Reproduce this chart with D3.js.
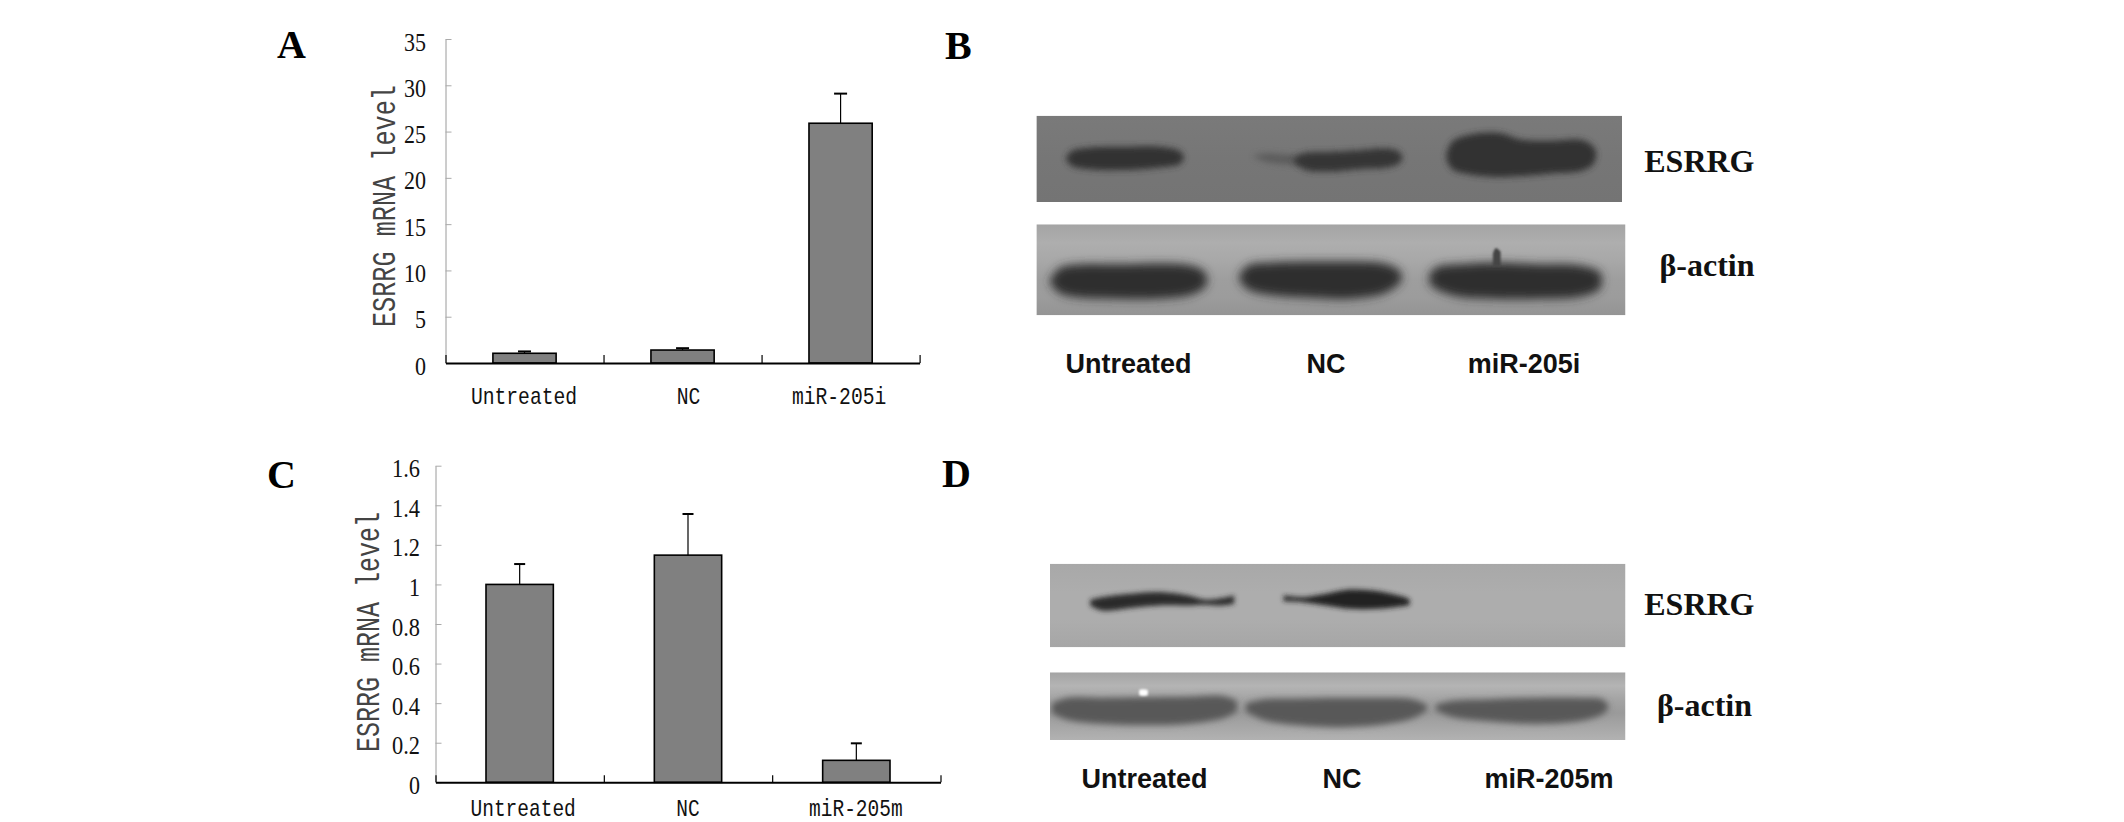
<!DOCTYPE html>
<html><head><meta charset="utf-8"><style>html,body{margin:0;padding:0;background:#fff}svg{display:block}</style>
<script src="https://cdn.jsdelivr.net/npm/d3@7"></script></head><body><svg id="c" width="2124" height="822"></svg>
<script>
// ---- Chart data ----
const catsA = ["Untreated","NC","miR-205i"];
const meansA = [1.05,1.4,25.9];
const errTopA = [1.25,1.6,29.1];
const ticksA = [0,5,10,15,20,25,30,35];
const catsC = ["Untreated","NC","miR-205m"];
const meansC = [1.0,1.148,0.111];
const errTopC = [1.103,1.356,0.197];
const ticksC = [0,0.2,0.4,0.6,0.8,1,1.2,1.4,1.6];
const yTitleA = "ESRRG mRNA level";
const yTitleC = "ESRRG mRNA level";

// ---- Blot band outlines: [% along membrane, % top edge, % bottom edge] ----
const bEsrrg1 = [[5,50,50],[6,41,58],[9,37,62],[15,36,63],[21,36,60],[24.5,41,56],[25.2,48,49]];
const bEsrrg2faint = [[37.2,46,48],[39,44,53],[42,45,56],[46,46,58]];
const bEsrrg2 = [[44,50,54],[46,43,63],[50,42,65],[55,40,62],[60,38,60],[62,42,55],[62.5,48,50]];
const bEsrrg3 = [[70,45,50],[71,30,62],[74,22,68],[79,20,71],[83,28,70],[88,29,67],[93,28,64],[95,35,57],[95.6,42,48]];
const bActin1 = [[2.4,60,66],[4,48,76],[8,44,81],[14,44,82],[20,43,82],[26,45,78],[28.5,52,70],[29,60,64]];
const bActin2 = [[34.5,55,62],[36,45,72],[40,42,78],[47,41,81],[53,41,82],[59,43,76],[61.5,50,66],[62,56,60]];
const bActin3 = [[66.7,55,65],[68,47,72],[72,44,80],[78,42,82],[85,44,82],[92,45,80],[95.5,52,72],[96,58,65]];
const bActinSpot = [[77.5,32,46],[78,26,46],[78.8,30,46]];
const dEsrrg1 = [[7,43,50],[9,40,56],[14,36,53],[19,34,50],[24,38,50],[27,43,49],[30,41,50],[32,38,48]];
const dEsrrg2 = [[40.6,38,45],[44,40,46],[48,36,50],[52,31,54],[57,33,54],[62,41,50],[62.5,43,49]];
const dActin1 = [[0.3,46,60],[3,38,70],[9,38,76],[16,37,78],[24,36,76],[30,35,68],[32.5,42,58]];
const dActin2 = [[34,46,58],[37,40,70],[43,39,78],[50,38,81],[57,38,78],[63,40,68],[65.5,48,56]];
const dActin3 = [[67,48,56],[70,42,66],[76,40,72],[84,38,76],[92,38,72],[96,40,62],[97,48,54]];
const dActinSpot = [[15.5,26,34],[16.2,25,35],[17,26,34]];
const blotLanesB = ["Untreated","NC","miR-205i"];
const blotLanesD = ["Untreated","NC","miR-205m"];
const blotProteins = ["ESRRG","β-actin"];
const panelLetters = ["A","B","C","D"];

// ---- Drawing ----
const svg = d3.select("#c");
const defs = svg.append("defs");
const blur = (id,s)=>defs.append("filter").attr("id",id).attr("x","-30%").attr("y","-80%").attr("width","160%").attr("height","260%")
  .append("feGaussianBlur").attr("stdDeviation",s);
blur("bl5",5); blur("bl3",3.4); blur("bl2",2.6); blur("bl1",1.2);
const mono = "'Liberation Mono',monospace", serif = "'Liberation Serif',serif", sans = "'Liberation Sans',sans-serif";

function barPanel(o){
  const g = svg.append("g");
  const x = d3.scaleBand().domain(o.cats).range(o.xr).paddingInner(0.6).paddingOuter(0.3);
  const y = d3.scaleLinear().domain([0,o.ticks[o.ticks.length-1]]).range(o.yr);
  const ax = d3.axisLeft(y).tickValues(o.ticks).tickFormat(d=>String(d)).tickSizeInner(-6).tickSizeOuter(0).tickPadding(o.pad);
  const ya = g.append("g").attr("transform",`translate(${o.xr[0]},0)`).call(ax);
  ya.select(".domain").attr("stroke","#9a9a9a").attr("stroke-width",1);
  ya.selectAll(".tick line").attr("stroke","#aaa").attr("stroke-width",1);
  ya.selectAll(".tick text").attr("dy",11).attr("font-family",serif).attr("font-size",26).attr("fill","#111")
    .attr("textLength",function(d){const s=String(d);return (s.match(/\d/g).length)*11+(s.includes(".")?6:0);})
    .attr("lengthAdjust","spacingAndGlyphs");
  g.selectAll(".bar").data(o.cats).join("rect").attr("class","bar")
    .attr("x",d=>x(d)).attr("width",x.bandwidth())
    .attr("y",(d,i)=>y(o.means[i])).attr("height",(d,i)=>y(0)-y(o.means[i]))
    .attr("fill","#808080").attr("stroke","#000").attr("stroke-width",1.6);
  g.selectAll(".stem").data(o.cats).join("line").attr("class","stem")
    .attr("x1",d=>x(d)+x.bandwidth()/2).attr("x2",d=>x(d)+x.bandwidth()/2)
    .attr("y1",(d,i)=>y(o.means[i])).attr("y2",(d,i)=>y(o.err[i])).attr("stroke","#000").attr("stroke-width",1.2);
  g.selectAll(".cap").data(o.cats).join("line").attr("class","cap")
    .attr("x1",d=>x(d)+x.bandwidth()/2-o.cap).attr("x2",d=>x(d)+x.bandwidth()/2+o.cap)
    .attr("y1",(d,i)=>y(o.err[i])).attr("y2",(d,i)=>y(o.err[i])).attr("stroke","#000").attr("stroke-width",2);
  const bounds = d3.scaleLinear().domain([0,o.cats.length]).range(o.xr);
  const xa = d3.axisBottom(bounds).tickValues(d3.range(o.cats.length+1)).tickFormat("").tickSizeInner(-o.tick).tickSizeOuter(0);
  const xg = g.append("g").attr("transform",`translate(0,${o.yr[0]})`).call(xa);
  xg.select(".domain").attr("stroke","#000").attr("stroke-width",2);
  xg.selectAll(".tick line").attr("stroke","#000").attr("stroke-width",1.2);
  g.selectAll(".cat").data(o.cats).join("text").attr("class","cat")
    .attr("x",(d,i)=>x(d)+x.bandwidth()/2+o.nudge[i]).attr("y",o.labelY)
    .attr("text-anchor","middle").attr("font-family",mono).attr("font-size",24).attr("fill","#111")
    .attr("textLength",d=>d.length*o.charW).attr("lengthAdjust","spacingAndGlyphs").text(d=>d);
  g.append("text").attr("transform",`translate(${o.titleX},${o.titleY}) rotate(-90)`)
    .attr("font-family",mono).attr("font-size",33).attr("fill","#444").style("white-space","pre")
    .attr("textLength",o.titleLen).attr("lengthAdjust","spacingAndGlyphs").text(o.title);
}
barPanel({cats:catsA,means:meansA,err:errTopA,ticks:ticksA,xr:[445.5,919.6],yr:[363,39],pad:19.5,cap:6.5,tick:8,
  nudge:[-0.5,6,-1.5],labelY:404,charW:11.8,title:yTitleA,titleX:395,titleY:327,titleLen:242});
barPanel({cats:catsC,means:meansC,err:errTopC,ticks:ticksC,xr:[435.5,940.5],yr:[782.3,465.7],pad:15.5,cap:5.5,tick:7,
  nudge:[3.5,0,-0.5],labelY:816,charW:11.7,title:yTitleC,titleX:378.5,titleY:752,titleLen:240});

let gid=0;
function blot(o){
  const id="clip"+(gid++), gr="grad"+gid;
  const x=d3.scaleLinear().domain([0,100]).range(o.xr), y=d3.scaleLinear().domain([0,100]).range(o.yr);
  const lg=defs.append("linearGradient").attr("id",gr).attr("x1",0).attr("x2",0).attr("y1",0).attr("y2",1);
  o.bg.forEach((c,i)=>lg.append("stop").attr("offset",i/(o.bg.length-1)).attr("stop-color",c));
  defs.append("clipPath").attr("id",id).append("rect").attr("x",o.xr[0]).attr("y",o.yr[0]).attr("width",o.xr[1]-o.xr[0]).attr("height",o.yr[1]-o.yr[0]);
  const g=svg.append("g").attr("clip-path",`url(#${id})`);
  g.append("rect").attr("x",o.xr[0]).attr("y",o.yr[0]).attr("width",o.xr[1]-o.xr[0]).attr("height",o.yr[1]-o.yr[0]).attr("fill",`url(#${gr})`);
  const area=d3.area().x(d=>x(d[0])).y0(d=>y(d[1])).y1(d=>y(d[2])).curve(d3.curveCatmullRom.alpha(0.5));
  o.bands.forEach(b=>g.append("path").attr("d",area(b.d)).attr("fill",b.c).attr("opacity",b.o||1).attr("filter",`url(#${b.f||"bl3"})`));
}
blot({xr:[1036.4,1622],yr:[115.7,202],bg:["#7a7a7a","#767676","#747474"],bands:[
  {d:bEsrrg1,c:"#333"},{d:bEsrrg2faint,c:"#555",o:.8},{d:bEsrrg2,c:"#343434"},{d:bEsrrg3,c:"#333"}]});
blot({xr:[1036.4,1625.5],yr:[224.3,315.3],bg:["#a4a4a4","#aeaeae","#a8a8a8","#9e9e9e","#9c9c9c","#949494"],bands:[
  {d:bActin1,c:"#2e2e2e",f:"bl5"},{d:bActin2,c:"#2e2e2e",f:"bl5"},{d:bActin3,c:"#2e2e2e",f:"bl5"},{d:bActinSpot,c:"#444",f:"bl1"}]});
blot({xr:[1050,1625.5],yr:[563.7,647.3],bg:["#a8a8a8","#adadad","#adadad","#a6a6a6"],bands:[
  {d:dEsrrg1,c:"#2a2a2a",f:"bl2"},{d:dEsrrg2,c:"#222",f:"bl2"}]});
blot({xr:[1050,1625.5],yr:[672.3,740],bg:["#a4a4a4","#b4b4b4","#a4a4a4","#9a9a9a","#a6a6a6","#b2b2b2"],bands:[
  {d:dActin1,c:"#585858",f:"bl3"},{d:dActin2,c:"#585858",f:"bl3"},{d:dActin3,c:"#585858",f:"bl3"},{d:dActinSpot,c:"#fff",f:"bl1"}]});

const letterX=[277,945,267,942], letterY=[58,59,488,487];
svg.selectAll(".ltr").data(panelLetters).join("text").attr("class","ltr").attr("x",(d,i)=>letterX[i]).attr("y",(d,i)=>letterY[i])
  .attr("font-family",serif).attr("font-weight","bold").attr("font-size",40).attr("fill","#000").text(d=>d);

function protein(name,xEnd,yb){svg.append("text").attr("x",xEnd).attr("y",yb).attr("text-anchor","end")
  .attr("font-family",serif).attr("font-weight","bold").attr("font-size",32).attr("fill","#111").text(name);}
protein(blotProteins[0],1754.5,171.7);protein(blotProteins[1],1754.5,276);
protein(blotProteins[0],1754.5,615);protein(blotProteins[1],1752,716);

function laneLabels(cats,xs,yb){svg.append("g").selectAll("text").data(cats).join("text").attr("x",(d,i)=>xs[i]).attr("y",yb)
  .attr("text-anchor","middle").attr("font-family",sans).attr("font-weight","bold").attr("font-size",27).attr("fill","#111").text(d=>d);}
laneLabels(blotLanesB,[1128.5,1326,1524],373.3);
laneLabels(blotLanesD,[1144.5,1342,1549],788);
</script></body></html>
